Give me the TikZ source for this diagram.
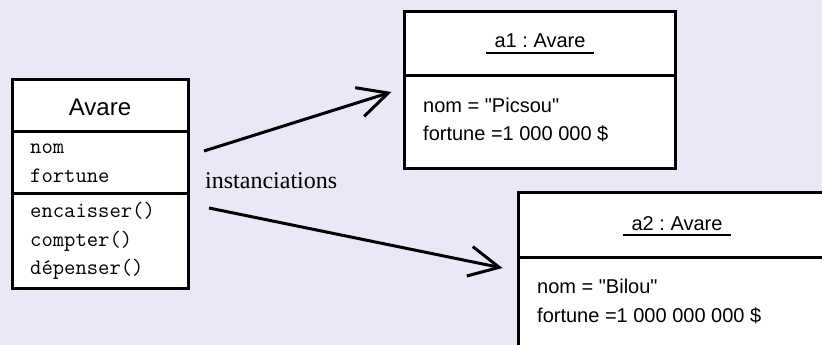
\documentclass[tikz,border=0pt]{standalone}
\usepackage{fontspec}
\newfontfamily\sansfont{Liberation Sans}
\newfontfamily\seriffont{Liberation Serif}
\usetikzlibrary{arrows.meta}
\definecolor{bg}{RGB}{232,232,246}
\frenchspacing

\begin{document}
\begin{tikzpicture}[x=1pt,y=-1pt,
  box/.style={draw, line width=3pt, fill=white, inner sep=0pt},
  sep/.style={line width=3pt},
  mono/.style={anchor=base west, inner sep=0pt, font=\ttfamily\fontsize{22}{26}\selectfont},
  attr/.style={anchor=base west, inner sep=0pt, font=\sansfont\fontsize{20}{24}\selectfont},
  ttl/.style={anchor=base, inner ysep=0pt, inner xsep=8pt, font=\sansfont\fontsize{20}{24}\selectfont},
  inst/.style={line width=3pt, -{Straight Barb[length=30pt,width=30pt]}}
]
% page background and frame
\fill[bg] (0,0) rectangle (822,345);
\useasboundingbox (0,0) rectangle (822,345);
\clip (0,0) rectangle (822,345);

% class Avare
\node[box, minimum width=176pt, minimum height=208pt] (avare) at (100,184) {};
\draw[sep] (12,131) -- (188,131);
\draw[sep] (12,193) -- (188,193);
\node[ttl, font=\sansfont\fontsize{24}{28}\selectfont] (avtitle) at (100,115) {Avare};
\node[mono] (anom) at (30,153) {nom};
\node[mono] (afort) at (30,182) {fortune};
\node[mono] (menc) at (30,217) {encaisser()};
\node[mono] (mcpt) at (30,246) {compter()};
\node[mono] (mdep) at (30,274) {dépenser()};

% object a1
\node[box, minimum width=271pt, minimum height=156pt] (a1) at (539.5,90) {};
\draw[sep] (404,76) -- (675,76);
\node[ttl] (t1) at (540,48) {a1 : Avare};
\draw[line width=1.5pt] ([yshift=-5pt]t1.base west) -- ([yshift=-5pt]t1.base east);
\node[attr] (a1nom) at (423,112) {nom = "Picsou"};
\node[attr] (a1fort) at (423,140) {fortune =1 000 000 \$};

% object a2
\node[box, minimum width=322pt, minimum height=178pt] (a2) at (679,281) {};
\draw[sep] (518,257) -- (840,257);
\node[ttl] (t2) at (677,230) {a2 : Avare};
\draw[line width=1.5pt] ([yshift=-5pt]t2.base west) -- ([yshift=-5pt]t2.base east);
\node[attr] (a2nom) at (537,293) {nom = "Bilou"};
\node[attr] (a2fort) at (537,322) {fortune =1 000 000 000 \$};

% instanciation arrows
\coordinate (s1) at (204,151);
\coordinate (s2) at (209,208);
\draw[inst] (s1) -- ([xshift=-11pt,yshift=-2pt]a1.west);
\draw[inst] (s2) -- ([xshift=-14pt,yshift=13pt]a2.west);
\node[anchor=base west, inner sep=0pt, font=\seriffont\fontsize{24}{28}\selectfont] (lbl) at (205,188) {instanciations};
\end{tikzpicture}
\end{document}
